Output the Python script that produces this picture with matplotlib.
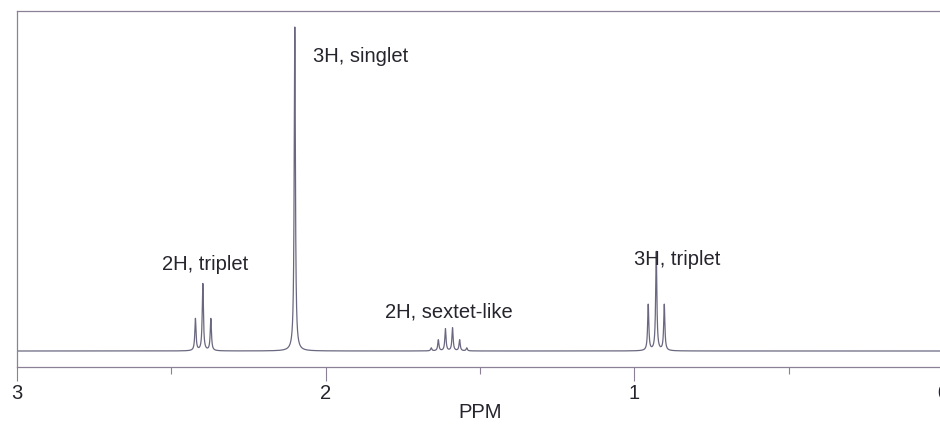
import numpy as np
import matplotlib.pyplot as plt

plt.rcParams['font.family'] = ['Liberation Sans', 'DejaVu Sans']

# peak lists (ppm, height above baseline)
triplet_a_ppm = [2.422, 2.398, 2.372]
triplet_a_hgt = [32, 67, 32]
singlet_ppm = [2.100]
singlet_hgt = [324]
sextet_ppm = [1.658, 1.635, 1.612, 1.589, 1.566, 1.543]
sextet_hgt = [3, 11, 22, 23, 11, 3]
triplet_b_ppm = [0.955, 0.929, 0.903]
triplet_b_hgt = [46, 99, 46]

labels = ["2H, triplet", "3H, singlet", "2H, sextet-like", "3H, triplet"]
label_ppm = [2.531, 2.042, 1.809, 1.000]
label_y = [81, 289, 33, 86]

major_ticks = [3, 2, 1, 0]
minor_ticks = [2.5, 1.5, 0.5]

ink = '#6a6880'
text_col = '#26242c'

positions = triplet_a_ppm + singlet_ppm + sextet_ppm + triplet_b_ppm
heights = triplet_a_hgt + singlet_hgt + sextet_hgt + triplet_b_hgt

# lorentzian line shape for each listed peak
hwhm = 0.0023
ppm = np.linspace(3.0, 0.0, 30000)
spec = np.zeros_like(ppm)
for p, h in zip(positions, heights):
    spec += h / (1 + ((ppm - p) / hwhm) ** 2)

fig = plt.figure(figsize=(9.4, 4.24), dpi=100)
W, H = 940, 424
left, right, top, bottom = 17, 943, 11, 367
ax = fig.add_axes([left / W, (H - bottom) / H, (right - left) / W, (bottom - top) / H])
ax.set_xlim(3, 0)
ax.set_ylim(-16, bottom - top - 16)

ax.plot(ppm, spec, color=ink, lw=0.9)

for s, x, y in zip(labels, label_ppm, label_y):
    ax.text(x, y, s, fontsize=14.5, color=text_col, ha='left', va='baseline')

for side in ['top', 'left', 'bottom', 'right']:
    ax.spines[side].set_color('#8c8096')
    ax.spines[side].set_linewidth(0.9)

ax.set_yticks([])
ax.set_xticks(major_ticks)
ax.set_xticklabels([str(t) for t in major_ticks])
ax.set_xticks(minor_ticks, minor=True)
ax.tick_params(axis='x', which='major', length=10, width=0.8, color='#8c8096',
               labelsize=14.5, labelcolor=text_col, pad=2)
ax.tick_params(axis='x', which='minor', length=5, width=0.8, color='#8c8096')
ax.set_xlabel('PPM', fontsize=14.5, color=text_col, labelpad=0)

fig.savefig('out.png', dpi=100)
